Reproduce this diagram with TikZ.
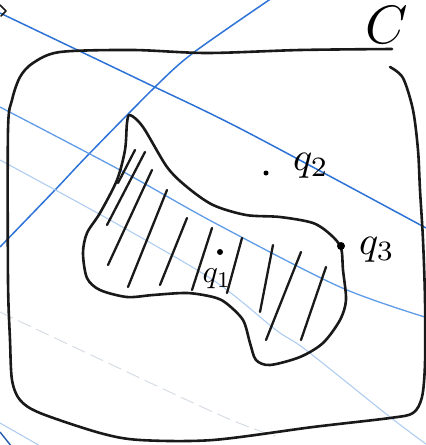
\documentclass[tikz,border=0pt]{standalone}
\usepackage{graphicx}
\definecolor{ruleblue}{RGB}{45,115,215}
\definecolor{rulemid}{RGB}{95,155,230}
\definecolor{rulelight}{RGB}{175,205,240}
\definecolor{rulegray}{RGB}{215,220,228}
\begin{document}
\begin{tikzpicture}[x=1pt,y=-1pt,
  ink/.style={line width=2.6pt, line cap=round, line join=round, draw=black!90},
  hatchline/.style={line width=2.3pt, line cap=round, draw=black!90},
  strongrule/.style={line width=1.5pt, draw=ruleblue},
  midrule/.style={line width=1.3pt, draw=rulemid},
  lightrule/.style={line width=1.1pt, draw=rulelight},
  grayrule/.style={line width=1pt, draw=rulegray, dash pattern=on 14pt off 6pt},
  pointdot/.style={circle, fill=black, inner sep=0pt},
  qlabel/.style={inner sep=0pt}]
\useasboundingbox (0,0) rectangle (426,445);
\begin{scope}
\clip (0,0) rectangle (426,445);
% ruled background lines
\draw[strongrule] plot[smooth] coordinates {(0,13) (140,80) (243,130) (426,228)};
\draw[strongrule] plot[smooth] coordinates {(272,-2) (193,53) (155,87) (88,155) (55,190) (0,247)};
\draw[midrule] plot[smooth] coordinates {(0,107) (120,170) (213,222) (340,287) (428,318)};
\draw[lightrule] plot[smooth] coordinates {(0,160) (110,220) (213,280) (276,330) (306,350) (390,417) (430,447)};
\draw[grayrule] plot[smooth] coordinates {(0,312) (213,412) (275,436)};
\draw[lightrule] (0,423) -- (42,447);
\draw[line width=1.4pt, draw=ruleblue!80!black] (0,432) -- (12,447);
% outer region C
\draw[ink] plot[smooth] coordinates {(392,49) (300,50) (207,53) (133,50) (60,52) (33,63) (20,77) (12,100) (8,130) (8,280) (10,340) (12,380) (20,400) (40,413) (100,433) (140,440) (213,440) (313,427) (390,418) (413,413) (422,397) (425,363) (425,300) (423,240) (420,190) (418,150) (413,110) (403,78) (390,67)};
% corner mark
\draw[ink, line width=1.6pt] (0,5) -- (6,11) -- (1,16);
% shaded blob
\draw[ink] plot[smooth cycle] coordinates {(130,115) (143,127) (167,167) (187,187) (213,205) (246,215) (280,217) (313,223) (331,235) (341,248) (343,270) (346,300) (340,320) (323,343) (300,357) (270,365) (256,360) (250,343) (243,320) (226,303) (213,297) (187,293) (153,295) (127,297) (100,290) (87,278) (83,253) (87,233) (100,213) (117,180) (125,150) (127,123)};
% hatching
\draw[hatchline] (118,183) -- (135,150);
\draw[hatchline] (107,225) -- (145,152);
\draw[hatchline] (108,265) -- (152,170);
\draw[hatchline] (128,287) -- (167,190);
\draw[hatchline] (160,285) -- (187,218);
\draw[hatchline] (192,290) -- (212,228);
\draw[hatchline] (227,293) -- (242,238);
\draw[hatchline] (260,312) -- (273,245);
\draw[hatchline] (266,340) -- (301,252);
\draw[hatchline] (301,340) -- (326,267);
\end{scope}
% points
\node[pointdot, minimum size=5pt] (p2) at (266,173) {};
\node[pointdot, minimum size=6pt] (p1) at (220,252) {};
\node[pointdot, minimum size=8pt] (p3) at (341,246) {};
% labels
\node[qlabel] (l2) at (311,166) {\scalebox{4}{$q_2$}};
\node[qlabel] (l1) at (217,279) {\scalebox{3.2}{$q_1$}};
\node[qlabel] (l3) at (377,250) {\scalebox{4}{$q_3$}};
\node[qlabel] (lc) at (387,25) {\scalebox{5.4}{$C$}};
\end{tikzpicture}
\end{document}
